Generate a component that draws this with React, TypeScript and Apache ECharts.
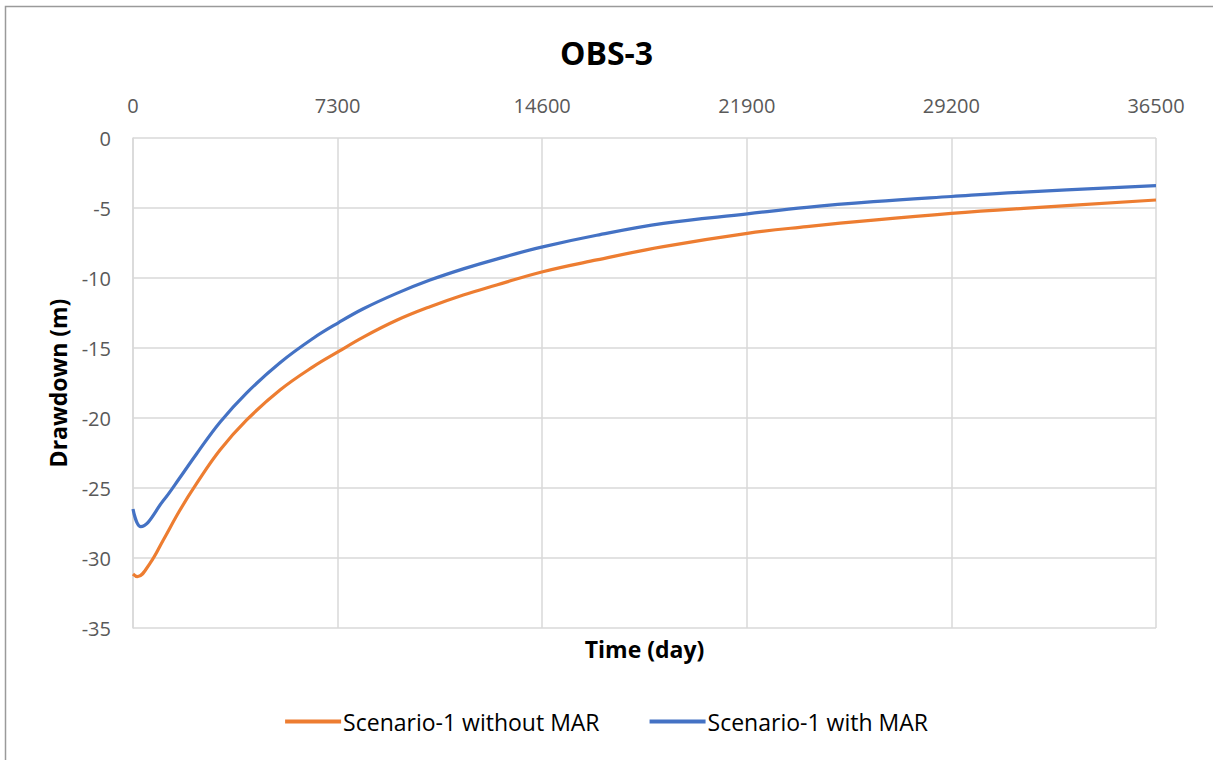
import React, { useEffect, useRef } from "react";
import * as echarts from "echarts";

// Time (day) and drawdown (m) for OBS-3
const withoutMarDays = [0, 155, 606, 1082, 1677, 2272, 3104, 4057, 5245, 6433, 7325, 8217, 9406, 10596, 11785, 12974, 14617, 16544, 18922, 21918, 24040, 26420, 29200, 31780, 36500];
const withoutMarValues = [-31.14, -31.33, -30.38, -28.71, -26.57, -24.67, -22.29, -20.14, -18.0, -16.33, -15.26, -14.22, -13.02, -12.05, -11.21, -10.5, -9.55, -8.71, -7.76, -6.81, -6.33, -5.86, -5.38, -5.02, -4.43];

const withMarDays = [0, 275, 1082, 1677, 2272, 3104, 4057, 5245, 6433, 7325, 8217, 9406, 10596, 11785, 12974, 14617, 16544, 18922, 21918, 24040, 26420, 29200, 31780, 36500];
const withMarValues = [-26.5, -27.76, -25.9, -24.25, -22.55, -20.3, -18.2, -16.05, -14.3, -13.2, -12.2, -11.1, -10.15, -9.35, -8.65, -7.78, -6.95, -6.1, -5.42, -4.95, -4.55, -4.18, -3.86, -3.4];

const seriesNames = ["Scenario-1 without MAR", "Scenario-1 with MAR"];
const xTickInterval = 7300;
const xMax = 36500;
const yMin = -35;
const yMax = 0;
const yTickInterval = 5;

const FONT = "'Open Sans', 'Noto Sans', sans-serif";

export default function App() {
  const ref = useRef<HTMLDivElement>(null);

  useEffect(() => {
    if (!ref.current) return;
    const chart = echarts.init(ref.current, undefined, { renderer: "svg" });
    const pair = (xs: number[], ys: number[]) => xs.map((x, i) => [x, ys[i]]);

    chart.setOption({
      animation: false,
      backgroundColor: "#ffffff",
      textStyle: { fontFamily: FONT },
      title: {
        text: "OBS-3",
        left: "center",
        top: 31,
        textStyle: { fontFamily: FONT, fontSize: 32, fontWeight: "bold", color: "#000000" },
      },
      graphic: [
        {
          type: "rect",
          shape: { x: 5.5, y: 6.5, width: 1400, height: 1000 },
          style: { fill: "none", stroke: "#9a9a9a", lineWidth: 1.5 },
          silent: true,
        },
      ],
      grid: { left: 133, right: 57, top: 138, bottom: 132, containLabel: false },
      legend: {
        bottom: 22,
        left: "center",
        itemWidth: 56,
        itemHeight: 4,
        itemGap: 50,
        icon: "rect",
        textStyle: { fontFamily: FONT, fontSize: 23, color: "#000000", padding: [0, 0, 0, -3] },
        data: seriesNames,
      },
      xAxis: {
        type: "value",
        position: "top",
        min: 0,
        max: xMax,
        interval: xTickInterval,
        name: "Time (day)",
        nameLocation: "middle",
        nameGap: -522,
        nameTextStyle: { fontFamily: FONT, fontSize: 23, fontWeight: "bold", color: "#000000" },
        axisLine: { show: false },
        axisTick: { show: false },
        axisLabel: {
          fontFamily: FONT,
          fontSize: 20,
          color: "#595959",
          margin: 23,
          formatter: (v: number) => String(v),
        },
        splitLine: { show: true, lineStyle: { color: "#d9d9d9", width: 1.5 } },
      },
      yAxis: {
        type: "value",
        min: yMin,
        max: yMax,
        interval: yTickInterval,
        name: "Drawdown (m)",
        nameLocation: "middle",
        nameGap: 64,
        nameRotate: 90,
        nameTextStyle: { fontFamily: FONT, fontSize: 23, fontWeight: "bold", color: "#000000" },
        axisLine: { show: true, lineStyle: { color: "#d9d9d9", width: 1.5 } },
        axisTick: { show: false },
        axisLabel: { fontFamily: FONT, fontSize: 20, color: "#595959", margin: 22 },
        splitLine: { show: true, lineStyle: { color: "#d9d9d9", width: 1.5 } },
      },
      series: [
        {
          name: seriesNames[0],
          type: "line",
          smooth: 0.4,
          showSymbol: false,
          data: pair(withoutMarDays, withoutMarValues),
          lineStyle: { color: "#ed7d31", width: 3.2 },
          itemStyle: { color: "#ed7d31" },
        },
        {
          name: seriesNames[1],
          type: "line",
          smooth: 0.4,
          showSymbol: false,
          data: pair(withMarDays, withMarValues),
          lineStyle: { color: "#4472c4", width: 3.2 },
          itemStyle: { color: "#4472c4" },
        },
      ],
    });

    return () => chart.dispose();
  }, []);

  return (
    <div
      ref={ref}
      style={{ position: "absolute", left: 0, top: 0, width: 1213, height: 760 }}
    />
  );
}
